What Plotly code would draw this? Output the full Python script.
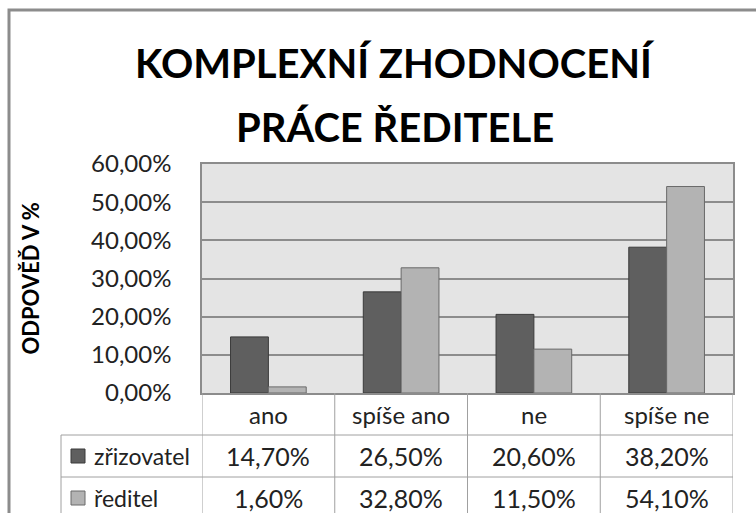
import plotly.graph_objects as go

categories = ["ano", "spíše ano", "ne", "spíše ne"]
series_names = ["zřizovatel", "ředitel"]
zrizovatel = [0.147, 0.265, 0.206, 0.382]
reditel = [0.016, 0.328, 0.115, 0.541]
value_labels = [
    ["14,70%", "26,50%", "20,60%", "38,20%"],
    ["1,60%", "32,80%", "11,50%", "54,10%"],
]
title_lines = ["KOMPLEXNÍ ZHODNOCENÍ", "PRÁCE ŘEDITELE"]
y_title = "ODPOVĚĎ V %"

colors = ["#5f5f5f", "#b3b3b3"]
outlines = ["#3a3a3a", "#6a6a6a"]
FONT = "Lato"
GRID = "#8c8c8c"
TLINE = "#a0a0a0"
TXT = "#222"

fig = go.Figure()
for name, vals, c, oc in zip(series_names, [zrizovatel, reditel], colors, outlines):
    fig.add_trace(go.Bar(x=categories, y=vals, name=name, marker=dict(color=c, line=dict(color=oc, width=1))))

ROW = 42
shapes = []
annotations = []

# outer frame
shapes.append(dict(type="rect", xref="paper", yref="paper", xsizemode="pixel", ysizemode="pixel",
                   xanchor=0, yanchor=1, x0=-193, x1=700, y0=154, y1=-600,
                   line=dict(color=GRID, width=3), fillcolor="rgba(0,0,0,0)", layer="above"))

# table horizontal lines
for k in [1, 2, 3]:
    shapes.append(dict(type="line", xref="paper", yref="paper", xsizemode="pixel", ysizemode="pixel",
                       xanchor=0, yanchor=0, x0=-141, x1=531, y0=-ROW * k, y1=-ROW * k,
                       line=dict(color=TLINE, width=1)))
# table vertical lines
shapes.append(dict(type="line", xref="paper", yref="paper", xsizemode="pixel", ysizemode="pixel",
                   xanchor=0, yanchor=0, x0=-141, x1=-141, y0=-ROW, y1=-ROW * 3,
                   line=dict(color=TLINE, width=1)))
for b in [-0.5, 0.5, 1.5, 2.5, 3.5]:
    shapes.append(dict(type="line", xref="x", yref="paper", ysizemode="pixel",
                       yanchor=0, x0=b, x1=b, y0=0, y1=-ROW * 3,
                       line=dict(color=TLINE, width=1)))

# category header row
for cat in categories:
    annotations.append(dict(x=cat, xref="x", y=0, yref="paper", yshift=-ROW / 2, yanchor="middle",
                            text=cat, showarrow=False, font=dict(family=FONT, size=24, color=TXT)))
# value rows + legend keys
for r, (name, labels, c, oc) in enumerate(zip(series_names, value_labels, colors, outlines)):
    yc = -ROW * (r + 1) - ROW / 2
    for cat, lab in zip(categories, labels):
        annotations.append(dict(x=cat, xref="x", y=0, yref="paper", yshift=yc, yanchor="middle",
                                text=lab, showarrow=False, font=dict(family=FONT, size=25, color=TXT)))
    annotations.append(dict(x=0, xref="paper", xshift=-110, xanchor="left", y=0, yref="paper",
                            yshift=yc, yanchor="middle", text=name, showarrow=False,
                            font=dict(family=FONT, size=23, color=TXT)))
    shapes.append(dict(type="rect", xref="paper", yref="paper", xsizemode="pixel", ysizemode="pixel",
                       xanchor=0, yanchor=0, x0=-131, x1=-117, y0=yc - 7, y1=yc + 7,
                       fillcolor=c, line=dict(color=oc, width=1)))

# title
annotations.append(dict(x=0, xref="paper", xshift=193, xanchor="center", y=1, yref="paper",
                        yshift=101, yanchor="middle", text="<b>%s</b>" % title_lines[0], showarrow=False,
                        font=dict(family=FONT, size=40, color="#000")))
annotations.append(dict(x=0, xref="paper", xshift=193, xanchor="center", y=1, yref="paper",
                        yshift=37, yanchor="middle", text="<b>%s</b>" % title_lines[1], showarrow=False,
                        font=dict(family=FONT, size=40, color="#000")))
# y title
annotations.append(dict(x=0, xref="paper", xshift=-172, xanchor="center", y=0.5, yref="paper",
                        yanchor="middle", text="<b>%s</b>" % y_title, textangle=-90, showarrow=False,
                        font=dict(family=FONT, size=22, color="#000")))

fig.update_layout(
    width=756, height=513,
    margin=dict(l=202, r=23, t=164, b=120, pad=0),
    paper_bgcolor="white", plot_bgcolor="#e4e4e4",
    separators=", ",
    showlegend=False,
    bargap=0.43, bargroupgap=0,
    barmode="group",
    shapes=shapes, annotations=annotations,
    xaxis=dict(type="category", range=[-0.5, 3.5], showticklabels=False, showgrid=False,
               showline=True, linecolor=GRID, linewidth=1.5, mirror=True, zeroline=False),
    yaxis=dict(range=[0, 0.6], dtick=0.1, tickformat=".2%", showgrid=True, gridcolor=GRID, gridwidth=1.5,
               showline=True, linecolor=GRID, linewidth=1.5, mirror=True, zeroline=False,
               ticks="", ticklabelstandoff=24, tickfont=dict(family=FONT, size=24, color=TXT)),
)

fig.write_html("out.html", config={"displayModeBar": False},
               post_script="document.body.style.margin='0';document.body.style.overflow='hidden';")
